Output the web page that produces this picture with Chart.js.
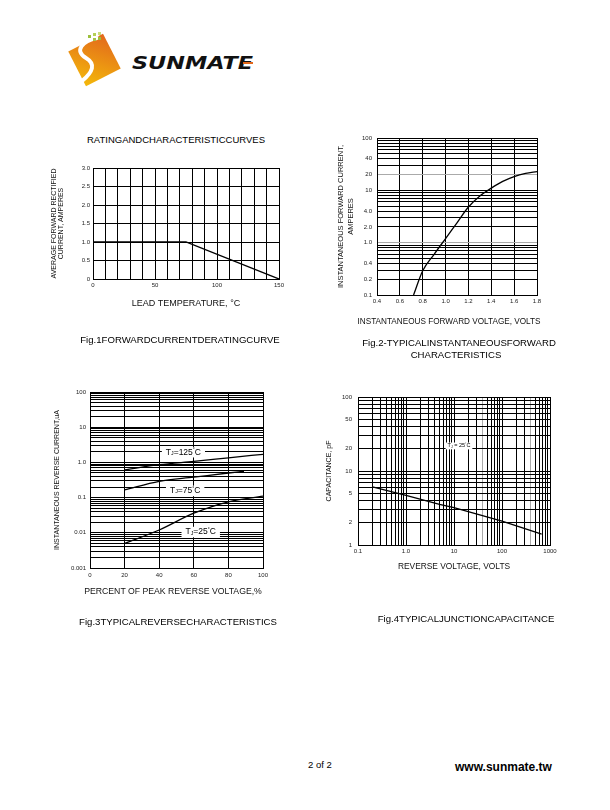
<!DOCTYPE html>
<html>
<head>
<meta charset="utf-8">
<script src="https://cdn.jsdelivr.net/npm/chart.js@4.4.1/dist/chart.umd.min.js"></script>
<style>
  body { margin: 0; width: 610px; height: 810px; position: relative; background: #fff; overflow: hidden;
         font-family: "Liberation Sans", Arial, sans-serif; color: #000; }
  .t { position: absolute; white-space: nowrap; text-align: center; line-height: 12px; width: 300px; font-size: 9.6px; }
  .ax { position: absolute; white-space: nowrap; text-align: center; line-height: 10px; width: 240px; color: #111; }
  canvas { position: absolute; }
</style>
</head>
<body>

<svg style="position:absolute;left:60px;top:20px" width="200" height="70">
  <defs>
    <linearGradient id="lg" x1="0" y1="1" x2="1" y2="0">
      <stop offset="0" stop-color="#f4b90a"/>
      <stop offset="1" stop-color="#e2681c"/>
    </linearGradient>
  </defs>
  <rect x="15" y="20.5" width="39" height="39" fill="url(#lg)" transform="rotate(-27 34.5 40)"/>
  <path d="M37,18 C22,21 14,31 26,38 C36,44 33,52 22,61" stroke="#fff" stroke-width="4" fill="none" stroke-linecap="round"/>
  <rect x="28" y="15" width="3" height="3" fill="#9cbf3c"/>
  <rect x="33" y="13" width="3" height="3" fill="#b5cf57"/>
  <rect x="38" y="12" width="3" height="3" fill="#c9dc7a"/>
  <rect x="33" y="18" width="3" height="3" fill="#a8c44a"/>
  <rect x="38" y="17" width="3" height="3" fill="#9cbf3c"/>
  <text x="72" y="49" font-family="DejaVu Sans" font-weight="bold" font-style="italic" font-size="18"
        textLength="121" lengthAdjust="spacingAndGlyphs" fill="#111">SUNMATE</text>
  <rect x="183" y="42" width="10" height="2" fill="#e2681c"/>
</svg>

<div class="t" style="left:26px;top:134px;font-size:9.5px">RATINGANDCHARACTERISTICCURVES</div>

<canvas id="c1" width="250" height="155" style="left:40px;top:158px"></canvas>
<canvas id="c2" width="225" height="205" style="left:325px;top:128px"></canvas>
<canvas id="c3" width="235" height="220" style="left:40px;top:382px"></canvas>
<canvas id="c4" width="255" height="190" style="left:310px;top:387px"></canvas>

<div class="ax" style="left:329px;top:317px;font-size:8.2px">INSTANTANEOUS FORWARD VOLTAGE, VOLTS</div>
<div class="ax" style="left:53px;top:586px;font-size:8.7px">PERCENT OF PEAK REVERSE VOLTAGE,%</div>

<div class="t" style="left:30px;top:334px">Fig.1FORWARDCURRENTDERATINGCURVE</div>
<div class="t" style="left:309px;top:337px">Fig.2-TYPICALINSTANTANEOUSFORWARD</div>
<div class="t" style="left:306px;top:349px">CHARACTERISTICS</div>
<div class="t" style="left:28px;top:616px">Fig.3TYPICALREVERSECHARACTERISTICS</div>
<div class="t" style="left:316px;top:613px">Fig.4TYPICALJUNCTIONCAPACITANCE</div>

<div style="position:absolute;left:308px;top:759px;font-size:9.5px">2 of 2</div>
<div style="position:absolute;left:455px;top:760px;font-size:12px;font-weight:bold">www.sunmate.tw</div>

<script>
// Fig.1 derating curve
const leadTempC = [0, 75, 150];
const avgCurrentA = [1.0, 1.0, 0];
const fig1TempLabels = [0, 50, 100, 150];

// Fig.2 forward characteristics
const fwdVolts = [0.72, 0.8, 0.9, 1.0, 1.1, 1.2, 1.3, 1.4, 1.5, 1.6, 1.7, 1.8];
const fwdAmps = [0.1, 0.29, 0.6, 1.2, 2.4, 4.8, 7.8, 11, 14.8, 18.3, 21, 22.8];
const fig2AmpTicks = [100, 40, 20, 10, 4, 2, 1, 0.4, 0.2, 0.1];
const fig2AmpLabels = ['100', '40', '20', '10', '4.0', '2.0', '1.0', '0.4', '0.2', '0.1'];

// Fig.3 reverse characteristics
const revPct = [20, 40, 60, 80, 100];
const revPct75 = [20, 40, 60, 80, 89];
const revAt125 = [0.61, 0.86, 1.07, 1.35, 1.7];
const revAt75 = [0.165, 0.29, 0.38, 0.5, 0.56];
const revAt25 = [0.005, 0.012, 0.036, 0.076, 0.11];
const fig3CurrTicks = [100, 10, 1, 0.1, 0.01, 0.001];
const fig3CurrLabels = ['100', '10', '1.0', '0.1', '0.01', '0.001'];
const fig3TagTemps = ['125', '75', '25'];
const fig3TagAt = [[54, 1.95], [55, 0.155], [64, 0.0105]];

// Fig.4 junction capacitance
const capVolts = [0.2, 1, 5, 10, 100, 670];
const capPf = [6.1, 4.7, 3.55, 3.2, 2.1, 1.4];
const fig4VoltTicks = [0.1, 1, 10, 100, 1000];
const fig4VoltLabels = ['0.1', '1.0', '10', '100', '1000'];
const fig4PfTicks = [100, 50, 20, 10, 5, 2, 1];
const fig4PfLabels = ['100', '50', '20', '10', '5', '2', '1'];
const fig4TagAt = [[12.7, 21.8]];

const FONT = '"Liberation Sans", Arial, sans-serif';
const tickFont = { family: FONT, size: 6 };

function pts(xs, ys) { return xs.map((x, i) => ({ x: x, y: ys[i] })); }

// 1..9 x 10^n grid lines for a log axis
function logGrid(lo, hi) {
  const out = [];
  for (let e = Math.round(Math.log10(lo)); e < Math.round(Math.log10(hi)); e++)
    for (let m = 1; m < 10; m++) out.push(+(m * Math.pow(10, e)).toPrecision(3));
  out.push(hi);
  return out;
}

function labelFor(values, labels) {
  return v => {
    const i = values.findIndex(t => Math.abs(t - v) < t * 1e-6);
    return i < 0 ? '' : labels[i];
  };
}

function curve(data, tension) {
  return { data: data, borderColor: '#000', borderWidth: 1.3, pointRadius: 0, tension: tension || 0,
           cubicInterpolationMode: tension ? 'monotone' : 'default' };
}

function axis(o) {
  const a = {
    type: o.type || 'linear', min: o.min, max: o.max,
    ticks: { font: tickFont, color: '#222', padding: o.pad || 3, autoSkip: false, maxRotation: 0, minRotation: 0,
             callback: o.label },
    grid: { color: o.gridColor || '#000', lineWidth: 1, drawTicks: false },
    border: { color: '#000', width: 1 },
    title: { display: !!o.title, text: o.title || '', color: '#111',
             font: { family: FONT, size: o.titleSize, lineHeight: o.titleLH || 1.2 },
             padding: o.titlePad, align: o.align || 'center' },
    afterFit: s => { if (s.isHorizontal()) s.height = o.box; else s.width = o.box; }
  };
  if (o.step) a.ticks.stepSize = o.step;
  if (o.grid) a.afterBuildTicks = s => { s.ticks = o.grid.map(v => ({ value: v })); };
  return a;
}

const tagPlugin = {
  id: 'tags',
  afterDatasetsDraw(chart, args, opts) {
    const ctx = chart.ctx, xs = chart.scales.x, ys = chart.scales.y, s = opts.size;
    opts.temps.forEach((temp, k) => {
      const parts = [['T', s, 0], ['J', s * 0.62, s * 0.12], [opts.eq + temp, s, 0], ['\u00b0', s * 0.6, -s * 0.25], ['C', s, 0]];
      ctx.save();
      let w = 0;
      parts.forEach(p => { ctx.font = p[1] + 'px ' + FONT; w += ctx.measureText(p[0]).width; });
      const cx = xs.getPixelForValue(opts.at[k][0]), cy = ys.getPixelForValue(opts.at[k][1]);
      ctx.fillStyle = '#fff';
      ctx.fillRect(cx - w / 2 - opts.pad, cy - s * 0.62, w + 2 * opts.pad, s * 1.24);
      ctx.fillStyle = '#000';
      ctx.textBaseline = 'middle';
      let x = cx - w / 2;
      parts.forEach(p => {
        ctx.font = p[1] + 'px ' + FONT;
        ctx.fillText(p[0], x, cy + p[2]);
        x += ctx.measureText(p[0]).width;
      });
      ctx.restore();
    });
  }
};

function base(padTop, padRight) {
  return { responsive: false, animation: false, layout: { padding: { top: padTop, right: padRight, left: 0, bottom: 0 } },
           plugins: { legend: { display: false }, tooltip: { enabled: false } } };
}

// Fig.1
const o1 = base(10, 11);
o1.scales = {
  x: axis({ min: 0, max: 150, step: 10, label: v => fig1TempLabels.includes(v) ? String(v) : '',
            title: 'LEAD TEMPERATURE, \u00b0C', titleSize: 9, titlePad: { top: 0, bottom: 4 }, box: 34 }),
  y: axis({ min: 0, max: 3, step: 0.5, label: v => v === 0 ? '0' : v.toFixed(1),
            title: ['AVERAGE FORWARD RECTIFIED', 'CURRENT, AMPERES'], titleSize: 7, titleLH: 1,
            titlePad: { top: 11 }, box: 53 })
};
new Chart(document.getElementById('c1'), { type: 'line', data: { datasets: [curve(pts(leadTempC, avgCurrentA))] }, options: o1 });

// Fig.2
const o2 = base(10, 13);
o2.scales = {
  x: axis({ min: 0.4, max: 1.8, step: 0.2, label: v => v.toFixed(1), box: 38 }),
  y: axis({ type: 'logarithmic', min: 0.1, max: 100, grid: logGrid(0.1, 100), pad: 5,
            label: labelFor(fig2AmpTicks, fig2AmpLabels),
            gridColor: c => (c.tick && (c.tick.value === 20 || c.tick.value === 1)) ? '#aaa' : '#000',
            title: ['INSTANTANEOUS FORWARD CURRENT,', 'AMPERES'], titleSize: 7.5, titleLH: 1.33,
            titlePad: { top: 11 }, box: 52 })
};
new Chart(document.getElementById('c2'), { type: 'line', data: { datasets: [curve(pts(fwdVolts, fwdAmps), 0.4)] }, options: o2 });

// Fig.3
const o3 = base(10, 12);
o3.scales = {
  x: axis({ min: 0, max: 100, step: 20, label: v => String(v), pad: 4, box: 34 }),
  y: axis({ type: 'logarithmic', min: 0.001, max: 100, grid: logGrid(0.001, 100), pad: 4,
            label: labelFor(fig3CurrTicks, fig3CurrLabels),
            title: 'INSTANTANEOUS REVERSE CURRENT,uA', titleSize: 7, titlePad: { top: 13 }, box: 50 })
};
o3.plugins.tags = { temps: fig3TagTemps, at: fig3TagAt, size: 8.5, pad: 4, eq: '=' };
new Chart(document.getElementById('c3'), {
  type: 'line',
  data: { datasets: [curve(pts(revPct, revAt125), 0.3), curve(pts(revPct75, revAt75), 0.3), curve(pts(revPct, revAt25), 0.3)] },
  options: o3, plugins: [tagPlugin]
});

// Fig.4
const o4 = base(10, 15);
o4.scales = {
  x: axis({ type: 'logarithmic', min: 0.1, max: 1000, grid: logGrid(0.1, 1000), pad: 3,
            label: labelFor(fig4VoltTicks, fig4VoltLabels),
            gridColor: c => (c.tick && (c.tick.value === 40 || c.tick.value === 400)) ? '#aaa' : '#000',
            title: 'REVERSE VOLTAGE, VOLTS', titleSize: 8.4, titlePad: { top: 0, bottom: 5 }, box: 32 }),
  y: axis({ type: 'logarithmic', min: 1, max: 100, grid: logGrid(1, 100), pad: 6,
            label: labelFor(fig4PfTicks, fig4PfLabels),
            title: 'CAPACITANCE, pF', titleSize: 7, titlePad: { top: 15 }, box: 48 })
};
o4.plugins.tags = { temps: ['25'], at: fig4TagAt, size: 5.5, pad: 2, eq: ' = ' };
new Chart(document.getElementById('c4'), { type: 'line', data: { datasets: [curve(pts(capVolts, capPf))] }, options: o4, plugins: [tagPlugin] });
</script>
</body>
</html>
